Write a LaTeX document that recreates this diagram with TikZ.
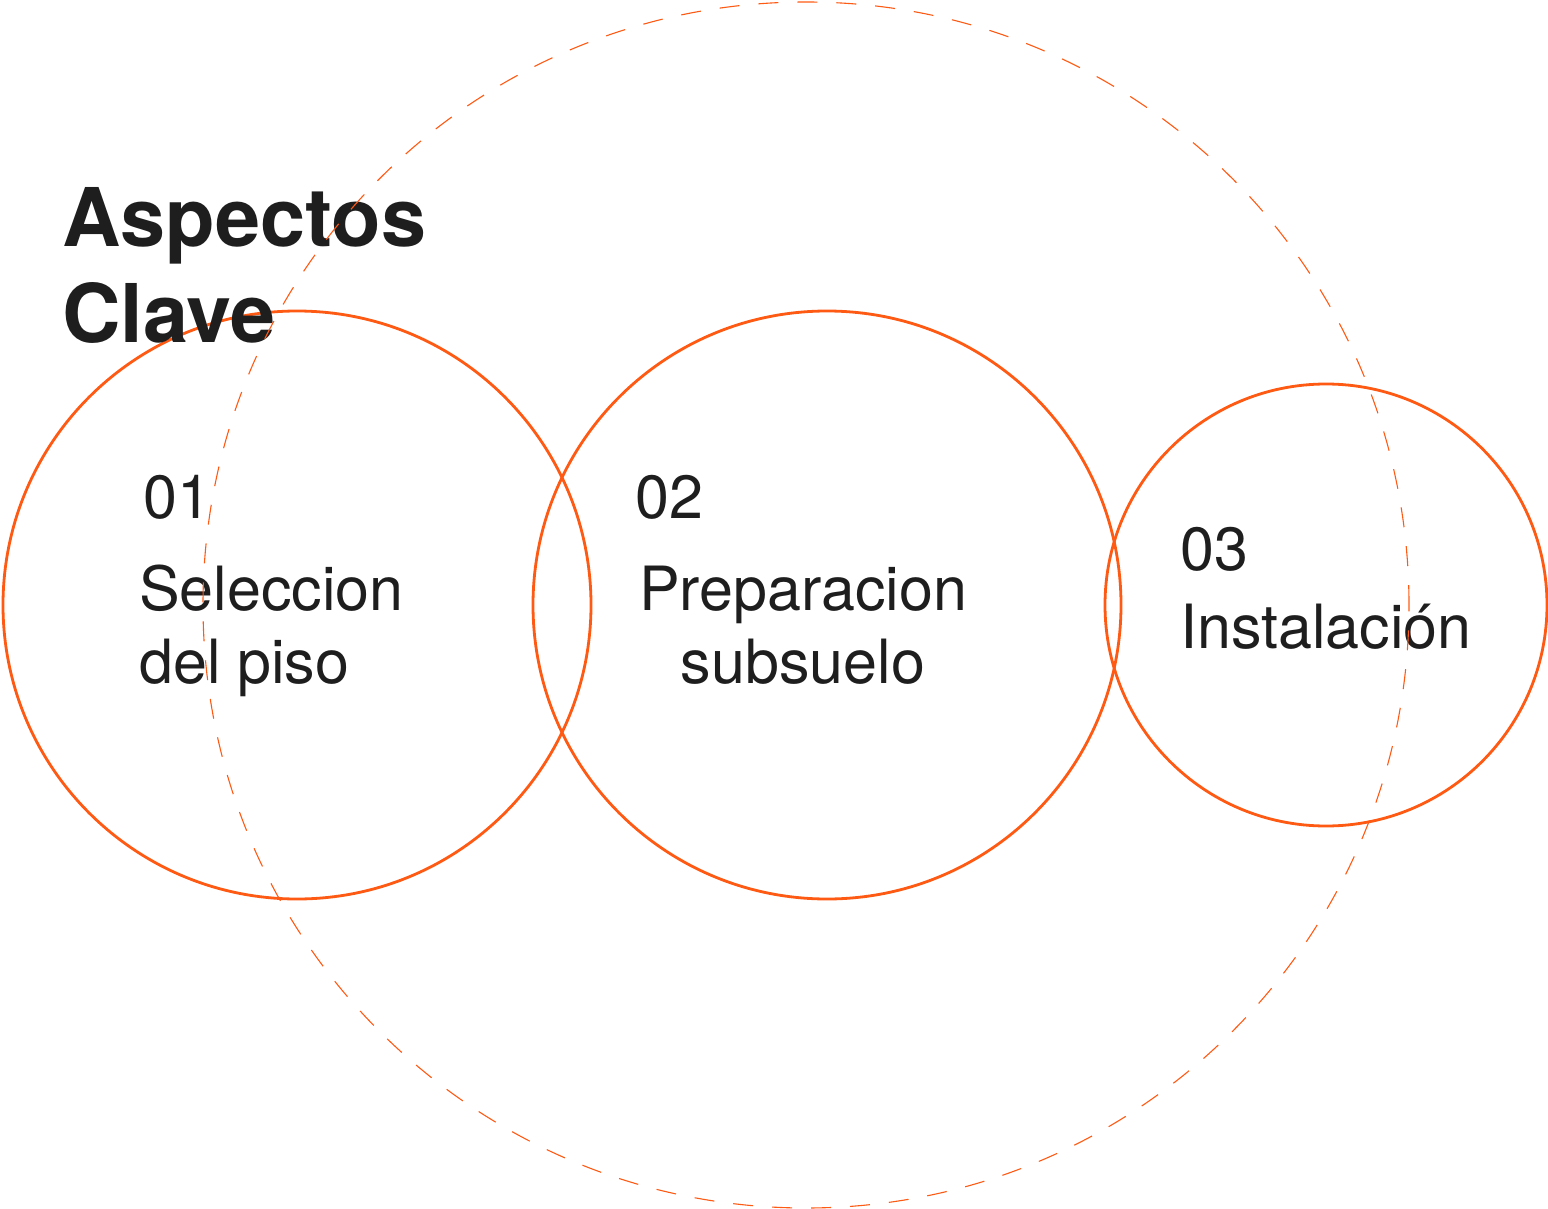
\documentclass[tikz,border=0pt]{standalone}
\usepackage{fontspec}
\setmainfont{TeX Gyre Heros}
\definecolor{naranja}{HTML}{FF5A14}
\definecolor{tinta}{HTML}{1E1E1E}
\begin{document}
\begin{tikzpicture}[x=1pt, y=-1pt,
    ring/.style={draw=naranja, line width=2.8pt, circle, inner sep=0pt},
    halo/.style={draw=naranja, line width=1.1pt, circle, inner sep=0pt, dash pattern=on 20pt off 19pt},
    titulo/.style={anchor=base west, inner sep=0pt, text=tinta, font=\fontsize{81}{92}\selectfont\bfseries},
    paso/.style={inner sep=0pt, text=tinta, font=\fontsize{61}{72}\selectfont}]
    \useasboundingbox (0,0) rectangle (1548,1209);

    % circulos
    \node[ring, minimum size=588pt] (sel) at (297,605) {};
    \node[ring, minimum size=588pt] (prep) at (827,605) {};
    \node[ring, minimum size=442pt] (inst) at (1326,605) {};

    % titulo
    \node[titulo] (asp) at (62,247) {Aspectos};
    \node[titulo] (clave) at (62,342) {Clave};

    % pasos
    \node[paso, anchor=base west] (n1) at (143,518) {01};
    \node[paso, anchor=base west] (s1a) at (139,610) {Seleccion};
    \node[paso, anchor=base west] (s1b) at (139,683) {del piso};

    \node[paso, anchor=base west] (n2) at (635,518) {02};
    \node[paso, anchor=base] (s2a) at (803,610) {Preparacion};
    \node[paso, anchor=base] (s2b) at (803,683) {subsuelo};

    \node[paso, anchor=base west] (n3) at (1180,570) {03};
    \node[paso, anchor=base west] (s3a) at (1180,648) {Instalación};

    % circulo punteado
    \node[halo, minimum size=1206pt] (todo) at (806,605) {};
\end{tikzpicture}
\end{document}
